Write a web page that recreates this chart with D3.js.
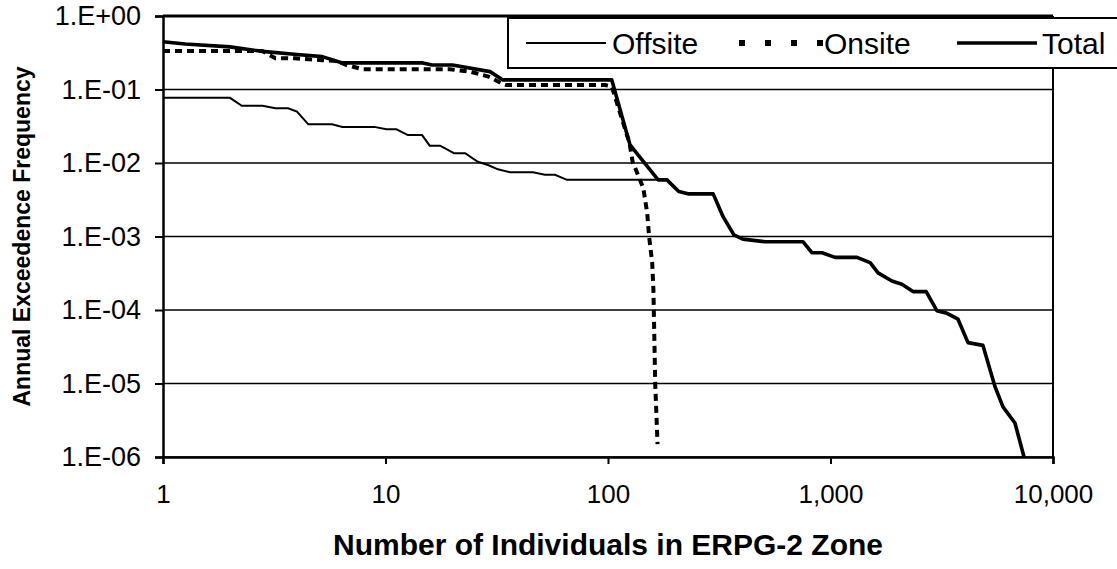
<!DOCTYPE html>
<html><head><meta charset="utf-8">
<script src="https://cdn.jsdelivr.net/npm/d3@7"></script>
<style>body{margin:0;background:#fff}svg{display:block}text{font-family:"Liberation Sans",Arial,sans-serif;fill:#000}</style>
</head><body><svg id="c" width="1117" height="569"></svg>
<script>
const offsiteN = [1,2.0,2.26,2.8,3.2,3.65,4.0,4.5,5.75,6.4,8.9,10.1,11.2,12.6,14.6,15.8,17.6,20.3,22.8,26,28.9,32,36.3,46,52,57.8,65.4,184,208,231,297,329,368,404,508,752,826,916,1048,1315,1507,1636,1888,2094,2349,2692,3006,3341,3741,4150,4844,5483,5960,6745,7410];
const offsiteF = [0.077,0.077,0.06,0.06,0.0555,0.0555,0.05,0.0336,0.0336,0.031,0.031,0.0287,0.0287,0.024,0.024,0.0172,0.0172,0.0136,0.0136,0.0104,0.0094,0.0082,0.0075,0.0075,0.0069,0.0069,0.0059,0.0059,0.0041,0.0038,0.0038,0.00186,0.00105,0.00092,0.00085,0.00085,0.0006,0.0006,0.00052,0.00052,0.00044,0.00032,0.000248,0.000224,0.000178,0.000178,0.000098,0.00009,0.000075,0.000036,0.000033,0.0000091,0.0000048,0.0000029,0.000001];
const onsiteN = [1,2.8,3.2,3.9,5.2,6.0,6.7,7.9,19.5,24,29,33.5,35,97,104,125,129,144,150,153,158,160,163,167];
const onsiteF = [0.334,0.334,0.266,0.266,0.25,0.244,0.215,0.188,0.188,0.175,0.15,0.12,0.115,0.115,0.11,0.0185,0.0104,0.0046,0.0021,0.001,0.00044,0.00019,0.00001,0.0000015];
const totalN = [1,1.26,2.0,2.8,4.0,5.2,6.4,7.9,14.7,16.2,20,29.5,33.7,104,125.6,168,184,208,231,297,329,368,404,508,752,826,916,1048,1315,1507,1636,1888,2094,2349,2692,3006,3341,3741,4150,4844,5483,5960,6745,7410];
const totalF = [0.447,0.416,0.38,0.33,0.30,0.28,0.23,0.23,0.23,0.215,0.215,0.175,0.135,0.135,0.0176,0.0059,0.0059,0.0041,0.0038,0.0038,0.00186,0.00105,0.00092,0.00085,0.00085,0.0006,0.0006,0.00052,0.00052,0.00044,0.00032,0.000248,0.000224,0.000178,0.000178,0.000098,0.00009,0.000075,0.000036,0.000033,0.0000091,0.0000048,0.0000029,0.000001];
const xTicks = [1,10,100,1000,10000];
const xTickLabels = ["1","10","100","1,000","10,000"];
const yTicks = [1,1e-1,1e-2,1e-3,1e-4,1e-5,1e-6];
const yTickLabels = ["1.E+00","1.E-01","1.E-02","1.E-03","1.E-04","1.E-05","1.E-06"];
const legendNames = ["Offsite","Onsite","Total"];

const svg = d3.select("#c");
const L=163,T=16,R=1053,B=457;
const x = d3.scaleLog().domain([1,10000]).range([L,R]);
const y = d3.scaleLog().domain([1e-6,1]).range([B,T]);

// gridlines
svg.append("g").selectAll("line").data(yTicks).join("line")
  .attr("x1",L).attr("x2",R).attr("y1",d=>y(d)).attr("y2",d=>y(d))
  .attr("stroke","#000").attr("stroke-width",1.3);

const line = d3.line().x(d=>x(d[0])).y(d=>y(d[1]));
const mk = (N,F)=>N.map((n,i)=>[n,F[i]]);
svg.append("path").datum(mk(offsiteN,offsiteF)).attr("d",line)
  .attr("fill","none").attr("stroke","#000").attr("stroke-width",2);
svg.append("path").datum(mk(onsiteN,onsiteF)).attr("d",line)
  .attr("fill","none").attr("stroke","#000").attr("stroke-width",4).attr("stroke-dasharray","7,5");
svg.append("path").datum(mk(totalN,totalF)).attr("d",line)
  .attr("fill","none").attr("stroke","#000").attr("stroke-width",3.6).attr("stroke-linejoin","round");

// frame
svg.append("line").attr("x1",L).attr("x2",R).attr("y1",T).attr("y2",T).attr("stroke","#000").attr("stroke-width",3);
svg.append("line").attr("x1",R).attr("x2",R).attr("y1",T).attr("y2",B).attr("stroke","#000").attr("stroke-width",2);

// axes
const xAxis = d3.axisBottom(x).tickValues(xTicks).tickFormat((d,i)=>xTickLabels[i]).tickSize(7).tickPadding(21);
const gx = svg.append("g").attr("transform",`translate(0,${B})`).call(xAxis);
gx.select(".domain").attr("stroke-width",2.5);
gx.selectAll(".tick line").attr("stroke-width",2);
gx.selectAll("text").attr("font-size",26).attr("fill","#000").attr("font-family","Liberation Sans, Arial, sans-serif");
const yAxis = d3.axisLeft(y).tickValues(yTicks).tickFormat((d,i)=>yTickLabels[i]).tickSize(8).tickPadding(14);
const gy = svg.append("g").attr("transform",`translate(${L},0)`).call(yAxis);
gy.select(".domain").attr("stroke-width",2.5);
gy.selectAll(".tick line").attr("stroke-width",2);
gy.selectAll("text").attr("font-size",27).attr("fill","#000").attr("font-family","Liberation Sans, Arial, sans-serif");

// titles
svg.append("text").attr("x",(L+R)/2).attr("y",555).attr("text-anchor","middle")
  .attr("font-size",30).attr("font-weight","bold").text("Number of Individuals in ERPG-2 Zone");
svg.append("text").attr("transform",`translate(30,${(T+B)/2}) rotate(-90)`).attr("text-anchor","middle")
  .attr("font-size",23).attr("font-weight","bold").text("Annual Exceedence Frequency");

// legend
const lg = svg.append("g");
lg.append("rect").attr("x",508).attr("y",18).attr("width",640).attr("height",50)
  .attr("fill","#fff").attr("stroke","#000").attr("stroke-width",2);
const legX = [526,739,957], legTX=[612,824,1042];
const legStyles = [{w:2,d:null},{w:6,d:"6,20"},{w:3.6,d:null}];
legendNames.forEach((n,i)=>{
  lg.append("line").attr("x1",legX[i]).attr("x2",legX[i]+(i==1?84:80)).attr("y1",43).attr("y2",43)
    .attr("stroke","#000").attr("stroke-width",legStyles[i].w).attr("stroke-dasharray",legStyles[i].d);
  lg.append("text").attr("x",legTX[i]).attr("y",54).attr("font-size",30).text(n);
});
</script></body></html>
